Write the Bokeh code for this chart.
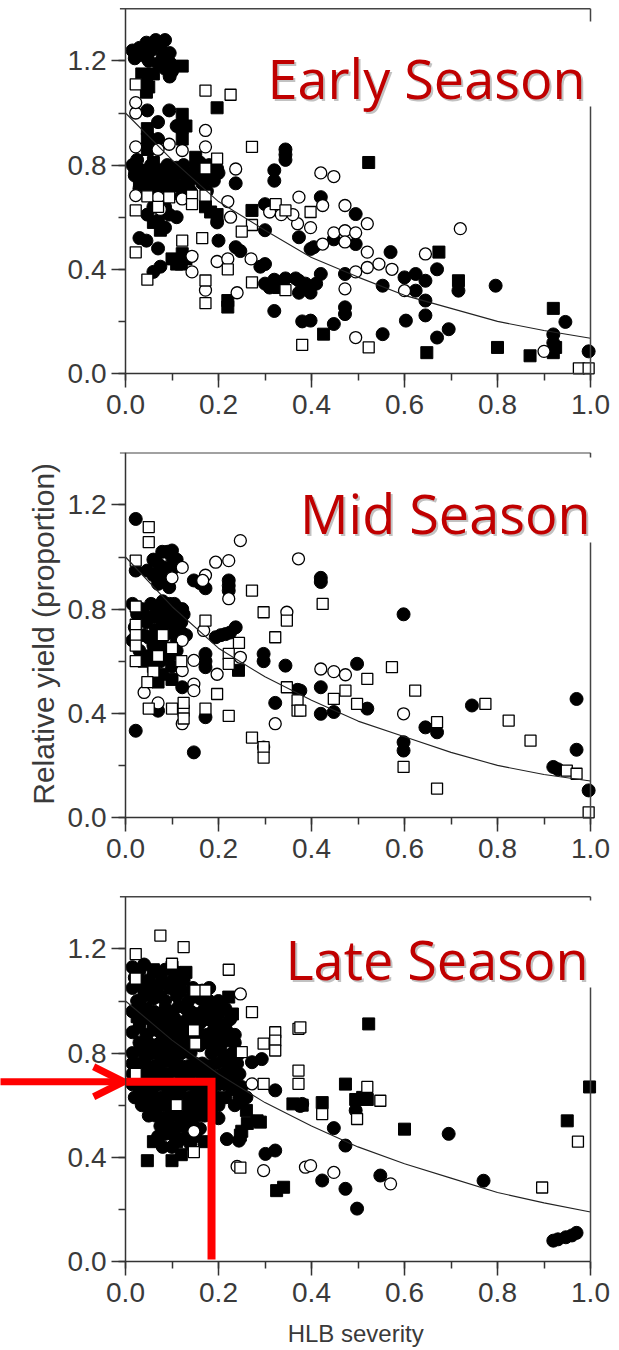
import math
from bokeh.plotting import figure
from bokeh.models import Range1d, SingleIntervalTicker, PrintfTickFormatter, Label, Arrow, OpenHead
from bokeh.layouts import column
from bokeh.embed import file_html
from bokeh.resources import INLINE

# ---------------- DATA ----------------
# HLB severity (x) vs relative yield (y); four symbol types per panel.
early_filled_circles = [
    (0.015, 1.24), (0.02, 1.21), (0.03, 1.25), (0.045, 1.27), (0.055, 1.24), (0.065, 1.28), (0.075, 1.26),
    (0.085, 1.28), (0.05, 1.2), (0.07, 1.19), (0.095, 1.23), (0.097, 1.19), (0.095, 1.14), (0.1, 1.16),
    (0.085, 1.17), (0.04, 1.22), (0.06, 1.26), (0.08, 1.22),
    (0.047, 1.01), (0.07, 0.965), (0.094, 1.01), (0.11, 0.95), (0.07, 0.9),
    (0.015, 0.8), (0.02, 0.76), (0.035, 0.78), (0.04, 0.73), (0.055, 0.8), (0.06, 0.75), (0.075, 0.78),
    (0.08, 0.72), (0.09, 0.8), (0.1, 0.75), (0.11, 0.79), (0.12, 0.72), (0.13, 0.76), (0.14, 0.7),
    (0.155, 0.78), (0.165, 0.73), (0.18, 0.8), (0.19, 0.79), (0.2, 0.77), (0.175, 0.7),
    (0.025, 0.82), (0.045, 0.76), (0.07, 0.74), (0.095, 0.78), (0.105, 0.73), (0.125, 0.8), (0.145, 0.77),
    (0.16, 0.81), (0.17, 0.75), (0.19, 0.74), (0.03, 0.71), (0.055, 0.7),
    (0.047, 0.61), (0.07, 0.587), (0.094, 0.61), (0.085, 0.64), (0.06, 0.64), (0.11, 0.6), (0.12, 0.68),
    (0.085, 0.56), (0.045, 0.51), (0.07, 0.48), (0.03, 0.52), (0.06, 0.39), (0.075, 0.41),
    (0.197, 0.787), (0.183, 0.76), (0.197, 0.58), (0.2, 0.51), (0.237, 0.73), (0.237, 0.485), (0.247, 0.47),
    (0.30, 0.65), (0.30, 0.55), (0.30, 0.42), (0.29, 0.41), (0.32, 0.78), (0.32, 0.74), (0.344, 0.86),
    (0.344, 0.82), (0.344, 0.84), (0.30, 0.345), (0.32, 0.36), (0.344, 0.365), (0.366, 0.365), (0.387, 0.345),
    (0.41, 0.345), (0.32, 0.24), (0.38, 0.2), (0.31, 0.33), (0.42, 0.677), (0.495, 0.612), (0.373, 0.523),
    (0.398, 0.478), (0.448, 0.515), (0.495, 0.497), (0.57, 0.466), (0.67, 0.4), (0.373, 0.356), (0.42, 0.382),
    (0.472, 0.382), (0.373, 0.31), (0.398, 0.31), (0.553, 0.337), (0.6, 0.369), (0.624, 0.382), (0.645, 0.356),
    (0.624, 0.318), (0.645, 0.28), (0.645, 0.223), (0.716, 0.318), (0.796, 0.337), (0.398, 0.203),
    (0.472, 0.254), (0.472, 0.228), (0.448, 0.19), (0.553, 0.151), (0.603, 0.203), (0.67, 0.138),
    (0.695, 0.17), (0.946, 0.198), (0.92, 0.118), (0.92, 0.15), (0.996, 0.085), (0.405, 0.485),
]
early_filled_squares = [
    (0.122, 1.18), (0.035, 1.15), (0.045, 1.12), (0.05, 1.1), (0.06, 1.15), (0.045, 1.08), (0.197, 1.02),
    (0.122, 0.995), (0.122, 0.945), (0.122, 0.9), (0.047, 0.94), (0.047, 0.9), (0.047, 0.86), (0.13, 0.95),
    (0.151, 0.83), (0.151, 0.79), (0.151, 0.75), (0.165, 0.77), (0.02, 0.79), (0.03, 0.74), (0.05, 0.77),
    (0.065, 0.72), (0.085, 0.76), (0.1, 0.72), (0.115, 0.77), (0.135, 0.73), (0.06, 0.81), (0.172, 0.64),
    (0.183, 0.62), (0.197, 0.61), (0.272, 0.626), (0.06, 0.58), (0.075, 0.55), (0.085, 0.62), (0.1, 0.44),
    (0.11, 0.42), (0.12, 0.42), (0.122, 0.46), (0.13, 0.44), (0.22, 0.28), (0.22, 0.255), (0.33, 0.33),
    (0.523, 0.81), (0.674, 0.466), (0.716, 0.356), (0.426, 0.151), (0.648, 0.08), (0.8, 0.1), (0.87, 0.068),
    (0.92, 0.25), (0.92, 0.08), (0.925, 0.1),
]
early_open_circles = [
    (0.022, 1.0), (0.022, 1.04), (0.022, 0.87), (0.094, 0.88), (0.122, 0.856), (0.172, 0.933), (0.172, 0.87),
    (0.07, 0.86), (0.237, 0.785), (0.022, 0.683), (0.07, 0.676), (0.122, 0.67), (0.075, 0.63), (0.22, 0.66),
    (0.226, 0.6), (0.27, 0.44), (0.143, 0.45), (0.143, 0.39), (0.197, 0.43), (0.22, 0.44), (0.172, 0.32),
    (0.24, 0.31), (0.42, 0.77), (0.448, 0.756), (0.373, 0.677), (0.424, 0.645), (0.472, 0.645), (0.52, 0.575),
    (0.398, 0.56), (0.448, 0.54), (0.472, 0.548), (0.495, 0.54), (0.424, 0.497), (0.472, 0.505), (0.52, 0.466),
    (0.545, 0.42), (0.52, 0.407), (0.573, 0.4), (0.495, 0.39), (0.645, 0.459), (0.72, 0.556), (0.472, 0.325),
    (0.6, 0.318), (0.495, 0.138), (0.9, 0.085), (0.37, 0.575), (0.31, 0.62), (0.335, 0.61), (0.36, 0.61),
]
early_open_squares = [
    (0.022, 1.11), (0.172, 1.086), (0.226, 1.07), (0.272, 0.87), (0.197, 0.825), (0.172, 0.787), (0.047, 0.68),
    (0.094, 0.676), (0.143, 0.683), (0.172, 0.683), (0.022, 0.626), (0.07, 0.64), (0.143, 0.65), (0.323, 0.65),
    (0.344, 0.626), (0.272, 0.57), (0.25, 0.545), (0.022, 0.465), (0.047, 0.36), (0.122, 0.51), (0.165, 0.52),
    (0.22, 0.4), (0.172, 0.357), (0.172, 0.27), (0.272, 0.35), (0.344, 0.32), (0.38, 0.11), (0.398, 0.62),
    (0.523, 0.1), (0.975, 0.02), (0.996, 0.02),
]
early_fit_x = [0.0, 0.1, 0.2, 0.3, 0.4, 0.5, 0.6, 0.7, 0.8, 0.9, 1.0]
early_fit_y = [1.0, 0.82, 0.66, 0.55, 0.445, 0.37, 0.30, 0.25, 0.20, 0.165, 0.135]

mid_filled_circles = [
    (0.022, 1.146), (0.1, 1.025), (0.079, 1.02), (0.07, 0.974), (0.094, 0.935), (0.07, 0.897), (0.094, 0.884),
    (0.022, 0.948), (0.047, 0.948), (0.06, 0.99), (0.11, 0.99), (0.085, 0.96), (0.1, 1.0), (0.147, 0.91),
    (0.172, 0.88), (0.16, 0.9), (0.222, 0.91), (0.222, 0.871), (0.222, 0.89), (0.015, 0.82), (0.025, 0.78),
    (0.02, 0.73), (0.015, 0.68), (0.035, 0.8), (0.045, 0.75), (0.04, 0.7), (0.055, 0.82), (0.06, 0.77),
    (0.065, 0.72), (0.06, 0.66), (0.075, 0.8), (0.08, 0.75), (0.085, 0.7), (0.095, 0.82), (0.1, 0.77),
    (0.105, 0.72), (0.115, 0.8), (0.12, 0.75), (0.122, 0.8), (0.13, 0.7), (0.09, 0.65), (0.05, 0.62),
    (0.11, 0.64), (0.075, 0.6), (0.1, 0.58), (0.03, 0.64), (0.05, 0.69), (0.07, 0.68), (0.09, 0.74),
    (0.11, 0.76), (0.04, 0.78), (0.065, 0.78), (0.085, 0.79), (0.105, 0.82), (0.125, 0.78), (0.12, 0.71),
    (0.075, 0.66), (0.095, 0.62), (0.08, 0.83), (0.09, 1.02), (0.075, 0.94), (0.105, 0.96), (0.085, 0.91),
    (0.06, 0.93), (0.194, 0.692), (0.215, 0.704), (0.237, 0.73), (0.205, 0.7),
    (0.225, 0.71), (0.172, 0.628), (0.172, 0.577), (0.172, 0.6), (0.122, 0.5), (0.07, 0.41), (0.172, 0.385),
    (0.147, 0.25), (0.022, 0.333), (0.322, 0.44), (0.297, 0.628), (0.297, 0.6), (0.344, 0.583), (0.37, 0.49),
    (0.376, 0.487), (0.42, 0.5), (0.42, 0.398), (0.448, 0.405), (0.52, 0.418), (0.645, 0.346), (0.67, 0.327),
    (0.598, 0.289), (0.598, 0.257), (0.745, 0.43), (0.97, 0.455), (0.97, 0.26), (0.92, 0.194), (0.996, 0.104),
    (0.42, 0.904), (0.42, 0.92), (0.598, 0.78), (0.498, 0.59), (0.93, 0.185),
]
mid_filled_squares = [
    (0.243, 0.565), (0.097, 0.63), (0.08, 0.55), (0.06, 0.58), (0.1, 0.53), (0.07, 0.52), (0.04, 0.6),
    (0.03, 0.76), (0.11, 0.68),
]
mid_open_circles = [
    (0.122, 0.96), (0.194, 0.98), (0.222, 0.986), (0.247, 1.063), (0.372, 0.993), (0.172, 0.93), (0.222, 0.84),
    (0.347, 0.788), (0.168, 0.718), (0.247, 0.615), (0.147, 0.603), (0.122, 0.564), (0.147, 0.512),
    (0.147, 0.487), (0.04, 0.48), (0.07, 0.44), (0.122, 0.36), (0.197, 0.55), (0.322, 0.36), (0.297, 0.27),
    (0.42, 0.57), (0.448, 0.56), (0.473, 0.548), (0.598, 0.398), (0.1, 0.92), (0.122, 0.68), (0.166, 0.91),
]
mid_open_squares = [
    (0.05, 1.115), (0.05, 1.057), (0.022, 0.986), (0.022, 0.81), (0.022, 0.74), (0.022, 0.7), (0.022, 0.66),
    (0.022, 0.6), (0.272, 0.871), (0.297, 0.788), (0.347, 0.756), (0.322, 0.692), (0.172, 0.756), (0.244, 0.67),
    (0.222, 0.628), (0.222, 0.59), (0.05, 0.418), (0.1, 0.418), (0.125, 0.41), (0.125, 0.38), (0.172, 0.418),
    (0.197, 0.474), (0.222, 0.39), (0.347, 0.5), (0.37, 0.45), (0.37, 0.41), (0.272, 0.307), (0.297, 0.27),
    (0.297, 0.23), (0.424, 0.82), (0.573, 0.577), (0.52, 0.532), (0.623, 0.487), (0.473, 0.487), (0.448, 0.455),
    (0.498, 0.436), (0.67, 0.366), (0.774, 0.436), (0.824, 0.372), (0.871, 0.295), (0.949, 0.18), (0.97, 0.168),
    (0.996, 0.02), (0.598, 0.194), (0.67, 0.111), (0.376, 0.41), (0.08, 0.7), (0.1, 0.65), (0.12, 0.6),
    (0.06, 0.56), (0.047, 0.52), (0.07, 0.62), (0.125, 0.44),
]
mid_fit_x = [0.0, 0.1, 0.2, 0.3, 0.4, 0.5, 0.6, 0.7, 0.8, 0.9, 1.0]
mid_fit_y = [1.0, 0.81, 0.65, 0.54, 0.45, 0.37, 0.31, 0.25, 0.20, 0.165, 0.14]

late_filled_circles = [
    (0.015, 1.13), (0.04, 1.14), (0.085, 1.12), (0.02, 1.09), (0.05, 1.08), (0.075, 1.1), (0.105, 1.09),
    (0.125, 1.08), (0.015, 1.05), (0.04, 1.04), (0.07, 1.06), (0.095, 1.05), (0.12, 1.04), (0.18, 1.05),
    (0.025, 1.0), (0.06, 1.01), (0.085, 1.0), (0.11, 1.02), (0.135, 1.0), (0.16, 1.01), (0.2, 1.0),
    (0.015, 0.96), (0.045, 0.97), (0.07, 0.95), (0.1, 0.96), (0.13, 0.97), (0.155, 0.95), (0.185, 0.96),
    (0.215, 0.97), (0.03, 0.92), (0.06, 0.91), (0.09, 0.93), (0.115, 0.91), (0.145, 0.92), (0.17, 0.93),
    (0.2, 0.91), (0.225, 0.93), (0.015, 0.88), (0.045, 0.87), (0.075, 0.88), (0.1, 0.87), (0.13, 0.88),
    (0.16, 0.87), (0.19, 0.89), (0.22, 0.88), (0.03, 0.84), (0.06, 0.83), (0.09, 0.84), (0.12, 0.83),
    (0.175, 0.84), (0.205, 0.83), (0.235, 0.84), (0.015, 0.8), (0.045, 0.79), (0.075, 0.8), (0.105, 0.79),
    (0.185, 0.8), (0.215, 0.79), (0.03, 0.76), (0.06, 0.75), (0.09, 0.77), (0.12, 0.75), (0.15, 0.76),
    (0.18, 0.75), (0.21, 0.77), (0.24, 0.76), (0.015, 0.72), (0.045, 0.71), (0.075, 0.72), (0.105, 0.73),
    (0.135, 0.71), (0.165, 0.72), (0.195, 0.71), (0.23, 0.72), (0.03, 0.68), (0.06, 0.67), (0.09, 0.68),
    (0.12, 0.67), (0.15, 0.68), (0.215, 0.68), (0.25, 0.67), (0.02, 0.63), (0.045, 0.64), (0.075, 0.63),
    (0.105, 0.64), (0.135, 0.63), (0.165, 0.64), (0.2, 0.63), (0.26, 0.63), (0.035, 0.6), (0.065, 0.59),
    (0.095, 0.6), (0.125, 0.59), (0.155, 0.6), (0.185, 0.59), (0.235, 0.6), (0.05, 0.56), (0.08, 0.55),
    (0.11, 0.56), (0.14, 0.55), (0.17, 0.56), (0.2, 0.55), (0.075, 0.52), (0.1, 0.51), (0.13, 0.52),
    (0.16, 0.51), (0.07, 0.48), (0.12, 0.47), (0.15, 0.48), (0.08, 0.44), (0.14, 0.45),
    (0.03, 1.115), (0.065, 1.115), (0.11, 1.11), (0.03, 1.07), (0.06, 1.05), (0.09, 1.07), (0.115, 1.06),
    (0.145, 1.05), (0.165, 1.04), (0.04, 1.02), (0.075, 1.02), (0.145, 1.02), (0.18, 1.0), (0.03, 0.98),
    (0.06, 0.96), (0.085, 0.97), (0.115, 0.98), (0.14, 0.96), (0.17, 0.97), (0.2, 0.95), (0.045, 0.935),
    (0.075, 0.915), (0.105, 0.935), (0.13, 0.925), (0.16, 0.915), (0.185, 0.925), (0.215, 0.91),
    (0.03, 0.9), (0.06, 0.89), (0.09, 0.895), (0.115, 0.87), (0.145, 0.89), (0.175, 0.87), (0.205, 0.87),
    (0.235, 0.87), (0.045, 0.85), (0.075, 0.84), (0.105, 0.85), (0.14, 0.84), (0.16, 0.83), (0.19, 0.84),
    (0.22, 0.85), (0.03, 0.81), (0.06, 0.8), (0.09, 0.81), (0.12, 0.8), (0.14, 0.8), (0.2, 0.81),
    (0.23, 0.8), (0.015, 0.76), (0.045, 0.75), (0.075, 0.76), (0.105, 0.76), (0.135, 0.75), (0.165, 0.76),
    (0.195, 0.76), (0.225, 0.75), (0.03, 0.72), (0.06, 0.73), (0.09, 0.72), (0.12, 0.72), (0.15, 0.73),
    (0.18, 0.72), (0.21, 0.72), (0.245, 0.72), (0.015, 0.68), (0.045, 0.67), (0.075, 0.68), (0.105, 0.67),
    (0.135, 0.68), (0.165, 0.67), (0.2, 0.68), (0.235, 0.68), (0.03, 0.645), (0.06, 0.63), (0.09, 0.64),
    (0.12, 0.63), (0.15, 0.64), (0.185, 0.64), (0.215, 0.63), (0.245, 0.63), (0.05, 0.6), (0.08, 0.6),
    (0.11, 0.6), (0.14, 0.6), (0.17, 0.6), (0.2, 0.6), (0.065, 0.56), (0.095, 0.56), (0.125, 0.56),
    (0.155, 0.56), (0.185, 0.56), (0.09, 0.53), (0.115, 0.52), (0.145, 0.52), (0.085, 0.49), (0.105, 0.48),
    (0.135, 0.49), (0.1, 0.44),
    (0.272, 0.765), (0.293, 0.777), (0.322, 0.657), (0.218, 0.47), (0.244, 0.464), (0.301, 0.413),
    (0.322, 0.426), (0.38, 0.605), (0.376, 0.597), (0.495, 0.58), (0.448, 0.512), (0.473, 0.445),
    (0.423, 0.311), (0.473, 0.279), (0.548, 0.33), (0.498, 0.203), (0.695, 0.49), (0.77, 0.31),
    (0.92, 0.08), (0.93, 0.085), (0.947, 0.093), (0.96, 0.1), (0.97, 0.11),
]
late_filled_squares = [
    (0.025, 1.11), (0.06, 1.12), (0.1, 1.13), (0.13, 1.11), (0.222, 1.015), (0.2, 0.98), (0.23, 0.95),
    (0.025, 0.94), (0.08, 0.9), (0.14, 0.86), (0.05, 0.82), (0.11, 0.81), (0.2, 0.86), (0.24, 0.8),
    (0.06, 0.7), (0.18, 0.69), (0.23, 0.66), (0.25, 0.62), (0.26, 0.58), (0.09, 0.62), (0.15, 0.57),
    (0.09, 0.5), (0.06, 0.46), (0.11, 0.46), (0.17, 0.46), (0.047, 0.387), (0.1, 0.387), (0.12, 0.41),
    (0.325, 0.272), (0.34, 0.285), (0.262, 0.53), (0.29, 0.535), (0.25, 0.5), (0.36, 0.605), (0.38, 0.6),
    (0.283, 0.54), (0.247, 0.485), (0.523, 0.912), (0.473, 0.681), (0.495, 0.622), (0.52, 0.622),
    (0.423, 0.61), (0.6, 0.508), (0.95, 0.54), (0.998, 0.67), (0.51, 0.63),
]
late_open_circles = [
    (0.247, 1.027), (0.272, 0.682), (0.297, 0.349), (0.387, 0.362), (0.24, 0.365), (0.147, 0.5),
    (0.398, 0.368), (0.448, 0.342), (0.57, 0.298),
]
late_open_squares = [
    (0.075, 1.251), (0.125, 1.207), (0.022, 1.18), (0.1, 1.143), (0.222, 1.12), (0.022, 1.086), (0.15, 1.04),
    (0.172, 1.04), (0.272, 0.957), (0.372, 0.893), (0.322, 0.88), (0.322, 0.848), (0.322, 0.81),
    (0.297, 0.836), (0.25, 0.804), (0.372, 0.733), (0.372, 0.682), (0.297, 0.682), (0.147, 0.42),
    (0.247, 0.36), (0.147, 0.887), (0.15, 0.836), (0.376, 0.899), (0.52, 0.67), (0.548, 0.617),
    (0.423, 0.566), (0.498, 0.547), (0.896, 0.284), (0.973, 0.46), (0.022, 0.72), (0.11, 0.6),
]
late_fit_x = [0.0, 0.1, 0.2, 0.3, 0.4, 0.5, 0.6, 0.7, 0.8, 0.9, 1.0]
late_fit_y = [1.0, 0.85, 0.72, 0.61, 0.52, 0.44, 0.375, 0.32, 0.265, 0.225, 0.19]

# highlighted reading on the late-season panel
late_marked_severity = 0.185
late_marked_yield = 0.69

titles = ["Early Season", "Mid Season", "Late Season"]
x_label = "HLB severity"
y_label = "Relative yield (proportion)"

# ---------------- STYLE / LAYOUT ----------------
TICK_FONT = "Liberation Sans"
AX = "#333333"
RED = "#C00000"
WIDTH = 617
PX_X = 465.0        # pixels per unit of severity
PX_Y = 260.5        # pixels per unit of yield
AXIS_LEFT = 125     # pixels from the canvas left to severity 0
X_LO = -AXIS_LEFT / PX_X
X_HI = (WIDTH - AXIS_LEFT) / PX_X


def xy(pairs):
    return [a for a, b in pairs], [b for a, b in pairs]


def panel(height, zero_from_top, title, title_base, title_right, gap, fc, fs, oc, osq, fx, fy):
    y_hi = zero_from_top / PX_Y
    y_lo = -(height - zero_from_top) / PX_Y
    p = figure(width=WIDTH, height=height, x_range=Range1d(X_LO, X_HI), y_range=Range1d(y_lo, y_hi),
               output_backend="svg", toolbar_location=None,
               min_border_left=0, min_border_right=0, min_border_top=0, min_border_bottom=0)
    p.grid.visible = False
    p.outline_line_color = None
    p.background_fill_color = "white"
    p.border_fill_color = "white"
    for ax, step, bnd in ((p.xaxis[0], 0.2, (0, 1)), (p.yaxis[0], 0.4, (0, 1.4))):
        ax.fixed_location = 0
        ax.bounds = bnd
        ax.ticker = SingleIntervalTicker(interval=step, num_minor_ticks=2)
        ax.formatter = PrintfTickFormatter(format="%.1f")
        ax.axis_line_color = AX
        ax.axis_line_width = 1.5
        ax.major_tick_line_color = AX
        ax.major_tick_line_width = 1.5
        ax.minor_tick_line_color = AX
        ax.minor_tick_line_width = 1.5
        ax.major_tick_out = 14
        ax.major_tick_in = 0
        ax.minor_tick_out = 7
        ax.minor_tick_in = 0
        ax.major_label_text_font = TICK_FONT
        ax.major_label_text_font_size = "28px"
        ax.major_label_text_color = "#3a3a3a"
    p.xaxis.major_label_standoff = 7
    p.yaxis.major_label_standoff = 5

    x, y = xy(fc)
    p.scatter(x, y, marker="circle", size=13, fill_color="black", line_color="black")
    x, y = xy(fs)
    p.scatter(x, y, marker="square", size=12, fill_color="black", line_color="black")
    x, y = xy(oc)
    p.scatter(x, y, marker="circle", size=12, fill_color="white", line_color="black", line_width=1.3)
    x, y = xy(osq)
    p.scatter(x, y, marker="square", size=11, fill_color="white", line_color="black", line_width=1.3)
    p.line(fx, fy, line_color="#222222", line_width=1.1)

    # frame: top and right, right side interrupted behind the title
    for xs, ys, xe, ye in ((-0.012, 1.4, 1, 1.4), (1, 0, 1, gap[0]), (1, gap[1], 1, 1.4)):
        p.add_layout(Arrow(end=None, x_start=xs, y_start=ys, x_end=xe, y_end=ye,
                           line_color="#444444", line_width=1.5))

    tx = (title_right - AXIS_LEFT) / PX_X
    p.add_layout(Label(x=tx, y=title_base, x_offset=2, y_offset=-2,
                       text=title, text_font="Open Sans", text_font_size="54px",
                       text_color="#9a9a9a", text_alpha=0.6, text_align="right",
                       text_baseline="alphabetic"))
    p.add_layout(Label(x=tx, y=title_base, text=title, text_font="Open Sans", text_font_size="54px",
                       text_color=RED, text_align="right", text_baseline="alphabetic"))
    return p


p1 = panel(452, 373, titles[0], 1.136, 585, (1.025, 1.351),
           early_filled_circles, early_filled_squares, early_open_circles, early_open_squares,
           early_fit_x, early_fit_y)
p2 = panel(443, 365, titles[1], 1.167, 590, (1.056, 1.382),
           mid_filled_circles, mid_filled_squares, mid_open_circles, mid_open_squares,
           mid_fit_x, mid_fit_y)
p3 = panel(453, 366, titles[2], 1.163, 588, (1.052, 1.386),
           late_filled_circles, late_filled_squares, late_open_circles, late_open_squares,
           late_fit_x, late_fit_y)

# y-axis title (rotated), centred on the middle panel
p2.add_layout(Label(x=-82 / PX_X, y=0.705, angle=math.pi / 2, text=y_label,
                    text_font="Liberation Sans", text_font_size="30px", text_color="#3a3a3a",
                    text_align="center", text_baseline="alphabetic"))
# x-axis title under the bottom panel
p3.add_layout(Label(x=0.495, y=-72 / PX_Y, text=x_label, text_font="Liberation Sans",
                    text_font_size="24px", text_color="#3a3a3a", text_align="center",
                    text_baseline="alphabetic"))

# red marker of the late-season reading
p3.add_layout(Arrow(x_start=-0.3, y_start=late_marked_yield, x_end=-0.004, y_end=late_marked_yield,
                    line_color="red", line_width=7,
                    end=OpenHead(size=30, line_color="red", line_width=7)))
p3.line([0, late_marked_severity, late_marked_severity], [late_marked_yield, late_marked_yield, 0.008],
        line_color="red", line_width=8, line_join="miter")

layout = column(p1, p2, p3, spacing=0)
open("out.html", "w").write(file_html(layout, INLINE))
